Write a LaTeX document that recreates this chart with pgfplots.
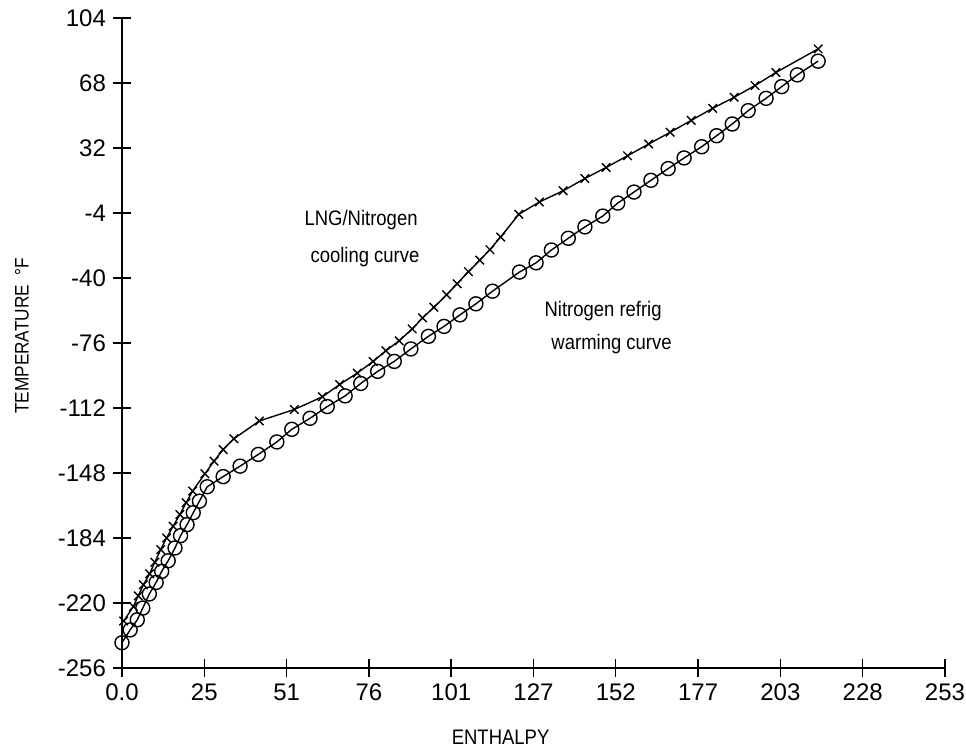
\documentclass[border=0pt]{standalone}
\usepackage{fontspec}
\setmainfont{Liberation Sans}
\newfontfamily\narrowfont[FakeStretch=0.88]{Liberation Sans}
\usepackage{pgfplots}
\pgfplotsset{compat=1.18}
\begin{document}
\begin{tikzpicture}
\begin{axis}[
  scale only axis,
  width=411.5pt, height=325pt,
  at={(0,0)}, anchor=south west,
  xmin=0, xmax=253, ymin=-256, ymax=104,
  axis x line*=bottom, axis y line*=left,
  axis line style={line width=0.8pt},
  tick align=center,
  major tick length=9pt,
  tick style={line width=0.7pt, black},
  xtick={0,25.3,50.6,75.9,101.2,126.5,151.8,177.1,202.4,227.7,253},
  xticklabels={0.0,25,51,76,101,127,152,177,203,228,253},
  ytick={-256,-220,-184,-148,-112,-76,-40,-4,32,68,104},
  /pgf/number format/assume math mode=true,
  ticklabel style={font=\fontsize{12}{14}\selectfont},
  clip=false,
  xlabel={ENTHALPY},
  ylabel={TEMPERATURE\ \ °F},
  xlabel style={font=\narrowfont\fontsize{10.5}{12}\selectfont, at={(axis description cs:0.46,0)}, anchor=center, yshift=-34.5pt},
  ylabel style={font=\narrowfont\fontsize{9.8}{12}\selectfont, at={(axis description cs:-0.1215,0.511)}, anchor=center},
]
\addplot[black, line width=0.7pt, mark=o, mark size=3.5pt, mark options={solid, line width=0.7pt}] coordinates {
(0,-242) (2.5,-234.9) (4.7,-229.3) (6.4,-222.8) (8.4,-215) (10.5,-208.6)
(12.2,-202.5) (14.2,-196.6) (16.3,-189.5) (18.0,-182.7) (20.0,-176.6)
(21.9,-170) (23.8,-163.6) (26.2,-155.6) (31.1,-150) (36.3,-144.2)
(41.9,-137.7) (47.6,-130.8) (52.2,-123.8) (57.8,-117.7) (63.1,-111.2)
(68.6,-105.3) (73.4,-98.4) (78.6,-91.7) (83.7,-86.2) (88.8,-79.3)
(94.2,-72.3) (99.0,-66.8) (103.9,-60.4) (108.8,-54.3) (113.9,-47.3)
(122.2,-36.7) (127.3,-31.6) (132.0,-24.5) (137.2,-18) (142.3,-11.7)
(147.8,-5.7) (152.4,1.5) (157.4,7.6) (162.6,14.1) (167.9,20.6)
(172.8,26.5) (178.2,32.7) (182.8,38.8) (187.6,45.3) (192.5,52.7)
(198.0,59.5) (202.8,66) (207.6,72.5) (214.0,80.1)
};
\addplot[black, line width=0.7pt, mark=x, mark size=3pt, mark options={solid, line width=0.7pt}] coordinates {
(0.5,-230) (3.5,-222) (5.0,-216) (6.6,-209.9) (8.5,-203.8) (10.1,-197.4)
(11.9,-190.4) (13.7,-184) (15.7,-177.5) (17.8,-171) (19.7,-164.5)
(21.7,-158) (25.5,-148.4) (28.3,-141.4) (31.1,-135) (34.4,-129)
(42.2,-119.2) (53.0,-112.8) (61.6,-105.8) (66.9,-99) (72.3,-92.7)
(77.2,-86.2) (81.1,-80.3) (85.2,-74.8) (89.2,-68.2) (92.4,-62.1)
(95.9,-56.2) (99.8,-49.3) (103.0,-43.2) (106.5,-36.5) (110.0,-30.1)
(113.1,-24.3) (116.4,-17.3) (122.0,-4.7) (128.3,2.1) (135.6,8.3)
(142.3,15.1) (148.8,21.2) (155.4,27.7) (161.9,34.2) (168.5,40.7)
(175.0,47.3) (181.6,54.0) (188.2,60.1) (194.6,66.6) (201.0,73.8)
(214.0,86.9)
};
\node[anchor=base, font=\narrowfont\fontsize{10.5}{12}\selectfont, inner sep=0pt] at (axis cs:73.5,-10.8) {LNG/Nitrogen};
\node[anchor=base, font=\narrowfont\fontsize{10.5}{12}\selectfont, inner sep=0pt] at (axis cs:74.7,-31.2) {cooling curve};
\node[anchor=base, font=\narrowfont\fontsize{10.5}{12}\selectfont, inner sep=0pt] at (axis cs:147.9,-61.2) {Nitrogen refrig};
\node[anchor=base, font=\narrowfont\fontsize{10.5}{12}\selectfont, inner sep=0pt] at (axis cs:150.5,-79.7) {warming curve};
\end{axis}
\pgfresetboundingbox
\path (-61pt,-41.5pt) rectangle (422pt,334pt);
\end{tikzpicture}
\end{document}
